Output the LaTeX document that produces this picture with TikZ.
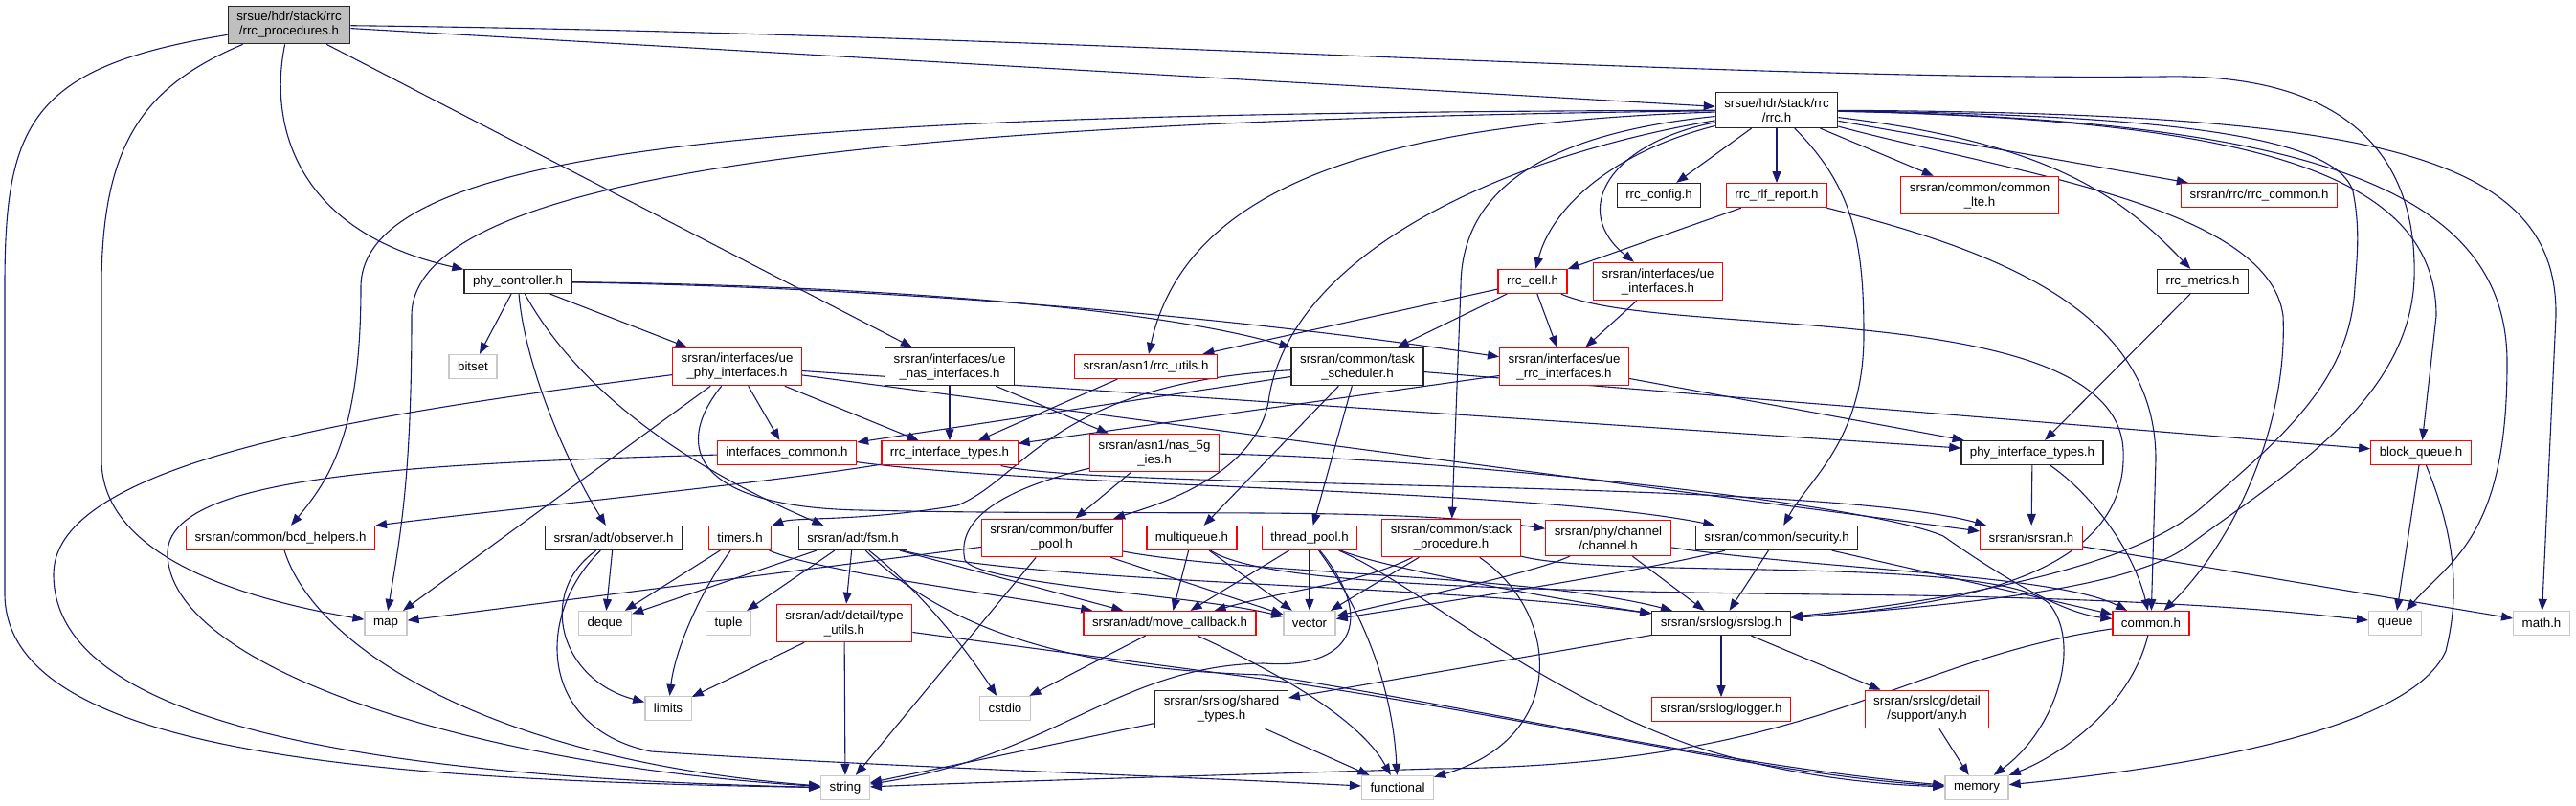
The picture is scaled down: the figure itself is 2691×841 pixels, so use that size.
\documentclass[tikz,border=0pt]{standalone}
\usepackage{fontspec}
\setmainfont{Liberation Sans}
\usetikzlibrary{positioning,arrows.meta,backgrounds}
\definecolor{midblue}{HTML}{191970}
\definecolor{lgray}{HTML}{C8C8C8}
\definecolor{rgray}{HTML}{BFBFBF}

\begin{document}
\begin{tikzpicture}[
  x=1pt, y=-1pt,
  font=\fontsize{13.3}{15}\selectfont,
  hdr/.style={draw=black!85, line width=1.3pt, fill=white, align=center,
    inner xsep=9pt, inner ysep=6pt, minimum height=25pt},
  trunc/.style={hdr, draw=red, line width=1.2pt},
  sys/.style={hdr, draw=lgray},
  rootbox/.style={hdr, fill=rgray},
  inc/.style={-{Triangle[length=12pt,width=9pt]}, midblue, line width=1.1pt},
]
\useasboundingbox (0,0) rectangle (2691,841);
\node[rootbox] (root) at (302,26) {srsue/hdr/stack/rrc\\/rrc\_procedures.h};
\node[hdr] (rrc) at (1856,115) {srsue/hdr/stack/rrc\\/rrc.h};
\node[hdr] (rrccfg) at (1733,204) {rrc\_config.h};
\node[trunc, below=57pt of rrc] (rlf) {rrc\_rlf\_report.h};
\node[trunc] (commonlte) at (2068,204) {srsran/common/common\\\_lte.h};
\node[trunc] (rrccommon) at (2360,204) {srsran/rrc/rrc\_common.h};
\node[hdr] (phyctrl) at (541,294) {phy\_controller.h};
\node[trunc] (rrccell) at (1601,294) {rrc\_cell.h};
\node[trunc] (ueif) at (1732,294) {srsran/interfaces/ue\\\_interfaces.h};
\node[hdr] (metrics) at (2301,294) {rrc\_metrics.h};
\node[sys] (bitset) at (494,383) {bitset};
\node[trunc] (uephy) at (770,383) {srsran/interfaces/ue\\\_phy\_interfaces.h};
\node[hdr] (uenas) at (992,383) {srsran/interfaces/ue\\\_nas\_interfaces.h};
\node[trunc] (rrcutils) at (1197,383) {srsran/asn1/rrc\_utils.h};
\node[hdr] (tasksched) at (1418,383) {srsran/common/task\\\_scheduler.h};
\node[trunc] (uerrc) at (1634,383) {srsran/interfaces/ue\\\_rrc\_interfaces.h};
\node[trunc] (ifcommon) at (822,473) {interfaces\_common.h};
\node[trunc, below=57pt of uenas] (rrctypes) {rrc\_interface\_types.h};
\node[trunc] (nas5g) at (1206,473) {srsran/asn1/nas\_5g\\\_ies.h};
\node[hdr] (phytypes) at (2123,473) {phy\_interface\_types.h};
\node[trunc] (blockq) at (2529,473) {block\_queue.h};
\node[trunc] (bcd) at (293,562) {srsran/common/bcd\_helpers.h};
\node[hdr] (observer) at (641,562) {srsran/adt/observer.h};
\node[trunc] (timers) at (773,562) {timers.h};
\node[hdr] (fsm) at (891,562) {srsran/adt/fsm.h};
\node[trunc] (bufpool) at (1099,562) {srsran/common/buffer\\\_pool.h};
\node[trunc] (mqueue) at (1245,562) {multiqueue.h};
\node[trunc] (tpool) at (1368,562) {thread\_pool.h};
\node[trunc] (stackproc) at (1516,562) {srsran/common/stack\\\_procedure.h};
\node[trunc] (channel) at (1680,562) {srsran/phy/channel\\/channel.h};
\node[hdr] (security) at (1856,562) {srsran/common/security.h};
\node[trunc] (srsranh) at (2122,562) {srsran/srsran.h};
\node[sys] (map) at (403,651) {map};
\node[sys] (deque) at (632,651) {deque};
\node[sys] (tuple) at (761,651) {tuple};
\node[trunc] (typeutils) at (882,651) {srsran/adt/detail/type\\\_utils.h};
\node[trunc] (movecb) at (1222,651) {srsran/adt/move\_callback.h};
\node[sys] (vector) at (1368,651) {vector};
\node[hdr] (srslog) at (1798,651) {srsran/srslog/srslog.h};
\node[trunc] (common) at (2247,651) {common.h};
\node[sys] (queue) at (2502,651) {queue};
\node[sys] (math) at (2655,651) {math.h};
\node[sys] (limits) at (698,740) {limits};
\node[sys] (cstdio) at (1050,740) {cstdio};
\node[hdr] (shared) at (1276,741) {srsran/srslog/shared\\\_types.h};
\node[trunc, below=64pt of srslog] (logger) {srsran/srslog/logger.h};
\node[trunc] (anyh) at (2013,741) {srsran/srslog/detail\\/support/any.h};
\node[sys] (string) at (883,823) {string};
\node[sys] (functional) at (1460,823) {functional};
\node[sys] (memory) at (2065,823) {memory};
\begin{scope}[on background layer]
\draw[inc] (root) -- (rrc);
\draw[inc] (root) .. controls (282,120) and (300,240) .. (phyctrl);
\draw[inc] (root) -- (uenas);
\draw[inc] (root) .. controls (1100,35) and (1800,85) .. (2260,80) .. controls (2470,76) and (2525,180) .. (2522,290) .. controls (2518,420) and (2380,500) .. (2286,570) .. controls (2220,620) and (2000,635) .. (srslog);
\draw[inc] (root) .. controls (150,90) and (106,150) .. (106,300) -- (106,480) .. controls (106,580) and (250,625) .. (map);
\draw[inc] (root) .. controls (30,70) and (5,130) .. (5,300) -- (5,620) .. controls (5,790) and (400,815) .. (string);
\draw[inc] (rrc) -- (rrccfg);
\draw[inc] (rrc) -- (rlf);
\draw[inc] (rrc) -- (commonlte);
\draw[inc] (rrc) -- (rrccommon);
\draw[inc] (rrc) .. controls (2150,150) and (2220,210) .. (metrics);
\draw[inc] (rrc) .. controls (1680,160) and (1620,220) .. (rrccell);
\draw[inc] (rrc) .. controls (1680,150) and (1640,220) .. (ueif);
\draw[inc] (rrc) .. controls (1450,128) and (1240,190) .. (rrcutils);
\draw[inc] (rrc) .. controls (900,118) and (377,140) .. (377,300) .. controls (377,450) and (345,500) .. (bcd);
\draw[inc] (rrc) .. controls (1000,125) and (430,170) .. (430,330) .. controls (430,500) and (418,560) .. (map);
\draw[inc] (rrc) .. controls (1560,165) and (1345,270) .. (1325,420) .. controls (1310,500) and (1200,530) .. (bufpool);
\draw[inc] (rrc) .. controls (1610,140) and (1526,200) .. (1526,300) -- (stackproc);
\draw[inc] (rrc) .. controls (1935,195) and (1947,250) .. (1947,350) .. controls (1947,460) and (1890,500) .. (security);
\draw[inc] (rrc) .. controls (2250,120) and (2440,140) .. (2458,200) .. controls (2466,240) and (2462,270) .. (2460,300) .. controls (2455,400) and (2380,460) .. (2300,530) .. controls (2220,600) and (2000,632) .. (srslog);
\draw[inc] (rrc) .. controls (2100,180) and (2370,215) .. (2385,330) .. controls (2390,450) and (2330,570) .. (common);
\draw[inc] (rrc) .. controls (2350,125) and (2545,180) .. (2545,330) -- (blockq);
\draw[inc] (rrc) .. controls (2420,125) and (2620,200) .. (2619,380) .. controls (2619,560) and (2560,585) .. (queue);
\draw[inc] (rrc) .. controls (2480,118) and (2672,160) .. (2670,330) -- (math);
\draw[inc] (phyctrl) -- (bitset);
\draw[inc] (phyctrl) .. controls (548,380) and (590,480) .. (observer);
\draw[inc] (phyctrl) .. controls (600,400) and (700,480) .. (fsm);
\draw[inc] (phyctrl) -- (uephy);
\draw[inc] (phyctrl) .. controls (900,298) and (1200,320) .. (tasksched);
\draw[inc] (phyctrl) .. controls (900,300) and (1250,325) .. (uerrc);
\draw[inc] (rrccell) -- (rrcutils);
\draw[inc] (rrccell) -- (tasksched);
\draw[inc] (rrccell) -- (uerrc);
\draw[inc] (rrccell) .. controls (1740,355) and (2210,310) .. (2218,470) .. controls (2224,600) and (2050,632) .. (srslog);
\draw[inc] (rlf) -- (rrccell);
\draw[inc] (rlf) .. controls (2100,265) and (2252,330) .. (2252,480) -- (common);
\draw[inc] (ueif) -- (uerrc);
\draw[inc] (metrics) -- (phytypes);
\draw[inc] (uephy) -- (ifcommon);
\draw[inc] (uephy) -- (rrctypes);
\draw[inc] (uephy) -- (map);
\draw[inc] (uephy) -- (phytypes);
\draw[inc] (uephy) -- (srsranh);
\draw[inc] (uephy) .. controls (700,470) and (730,530) .. (900,533) .. controls (1200,540) and (1450,528) .. (channel);
\draw[inc] (uephy) .. controls (400,430) and (56,480) .. (56,600) .. controls (56,760) and (400,812) .. (string);
\draw[inc] (uenas) -- (rrctypes);
\draw[inc] (uenas) -- (nas5g);
\draw[inc] (rrcutils) -- (rrctypes);
\draw[inc] (uerrc) -- (rrctypes);
\draw[inc] (uerrc) -- (phytypes);
\draw[inc] (tasksched) -- (ifcommon);
\draw[inc] (tasksched) .. controls (1100,400) and (1070,500) .. (1000,528) .. controls (900,545) and (830,540) .. (timers);
\draw[inc] (tasksched) -- (mqueue);
\draw[inc] (tasksched) -- (tpool);
\draw[inc] (tasksched) -- (blockq);
\draw[inc] (ifcommon) .. controls (400,485) and (172,500) .. (175,580) .. controls (180,700) and (500,800) .. (string);
\draw[inc] (ifcommon) .. controls (1100,510) and (1600,510) .. (security);
\draw[inc] (rrctypes) .. controls (800,505) and (500,535) .. (bcd);
\draw[inc] (rrctypes) .. controls (1150,512) and (1900,500) .. (srsranh);
\draw[inc] (nas5g) -- (bufpool);
\draw[inc] (nas5g) .. controls (1030,515) and (1000,550) .. (1008,585) .. controls (1020,610) and (1250,622) .. (vector);
\draw[inc] (nas5g) .. controls (1500,478) and (1950,525) .. (2030,560) .. controls (2080,595) and (2150,640) .. (common);
\draw[inc] (bcd) .. controls (330,680) and (520,795) .. (string);
\draw[inc] (observer) -- (deque);
\draw[inc] (observer) .. controls (560,620) and (585,710) .. (limits);
\draw[inc] (observer) .. controls (560,640) and (560,760) .. (680,785) .. controls (900,800) and (1250,812) .. (functional);
\draw[inc] (timers) -- (deque);
\draw[inc] (timers) .. controls (730,620) and (705,680) .. (limits);
\draw[inc] (timers) .. controls (850,595) and (1000,615) .. (movecb);
\draw[inc] (fsm) -- (deque);
\draw[inc] (fsm) -- (tuple);
\draw[inc] (fsm) -- (typeutils);
\draw[inc] (fsm) .. controls (965,620) and (1010,680) .. (cstdio);
\draw[inc] (fsm) -- (movecb);
\draw[inc] (fsm) .. controls (1080,610) and (1500,610) .. (srslog);
\draw[inc] (fsm) .. controls (1000,670) and (1150,700) .. (1320,705) .. controls (1550,740) and (1800,800) .. (memory);
\draw[inc] (typeutils) -- (limits);
\draw[inc] (typeutils) -- (string);
\draw[inc] (typeutils) .. controls (1100,680) and (1250,700) .. (1340,712) .. controls (1600,750) and (1850,810) .. (memory);
\draw[inc] (bufpool) -- (string);
\draw[inc] (bufpool) -- (map);
\draw[inc] (bufpool) -- (vector);
\draw[inc] (bufpool) .. controls (1300,600) and (1600,600) .. (srslog);
\draw[inc] (mqueue) -- (movecb);
\draw[inc] (mqueue) -- (vector);
\draw[inc] (mqueue) .. controls (1320,612) and (1600,618) .. (2000,622) .. controls (2300,628) and (2400,640) .. (queue);
\draw[inc] (tpool) -- (movecb);
\draw[inc] (tpool) -- (vector);
\draw[inc] (tpool) .. controls (1425,640) and (1455,720) .. (functional);
\draw[inc] (tpool) .. controls (1450,595) and (1650,630) .. (srslog);
\draw[inc] (tpool) .. controls (1440,650) and (1410,700) .. (1320,693) .. controls (1170,695) and (1100,790) .. (string);
\draw[inc] (tpool) .. controls (1480,610) and (1600,720) .. (1771,780) .. controls (1880,815) and (1980,820) .. (memory);
\draw[inc] (stackproc) -- (vector);
\draw[inc] (stackproc) .. controls (1420,610) and (1350,615) .. (movecb);
\draw[inc] (stackproc) .. controls (1630,640) and (1640,770) .. (functional);
\draw[inc] (stackproc) .. controls (1680,605) and (2080,580) .. (2140,630) .. controls (2175,670) and (2150,760) .. (memory);
\draw[inc] (channel) -- (srslog);
\draw[inc] (channel) .. controls (1600,600) and (1450,630) .. (vector);
\draw[inc] (channel) .. controls (1900,595) and (2150,600) .. (common);
\draw[inc] (security) -- (srslog);
\draw[inc] (security) .. controls (1700,600) and (1500,630) .. (vector);
\draw[inc] (security) -- (common);
\draw[inc] (srsranh) -- (math);
\draw[inc] (phytypes) -- (srsranh);
\draw[inc] (phytypes) .. controls (2190,520) and (2230,580) .. (common);
\draw[inc] (common) .. controls (2225,740) and (2150,790) .. (memory);
\draw[inc] (common) .. controls (1980,690) and (1900,800) .. (1500,803) .. controls (1200,812) and (1000,818) .. (string);
\draw[inc] (blockq) -- (queue);
\draw[inc] (blockq) .. controls (2565,560) and (2570,620) .. (2555,680) .. controls (2520,760) and (2300,800) .. (memory);
\draw[inc] (srslog) -- (logger);
\draw[inc] (srslog) -- (anyh);
\draw[inc] (srslog) -- (shared);
\draw[inc] (anyh) -- (memory);
\draw[inc] (shared) -- (string);
\draw[inc] (shared) -- (functional);
\draw[inc] (movecb) -- (cstdio);
\draw[inc] (movecb) .. controls (1330,700) and (1420,750) .. (functional);
\end{scope}
\end{tikzpicture}
\end{document}
